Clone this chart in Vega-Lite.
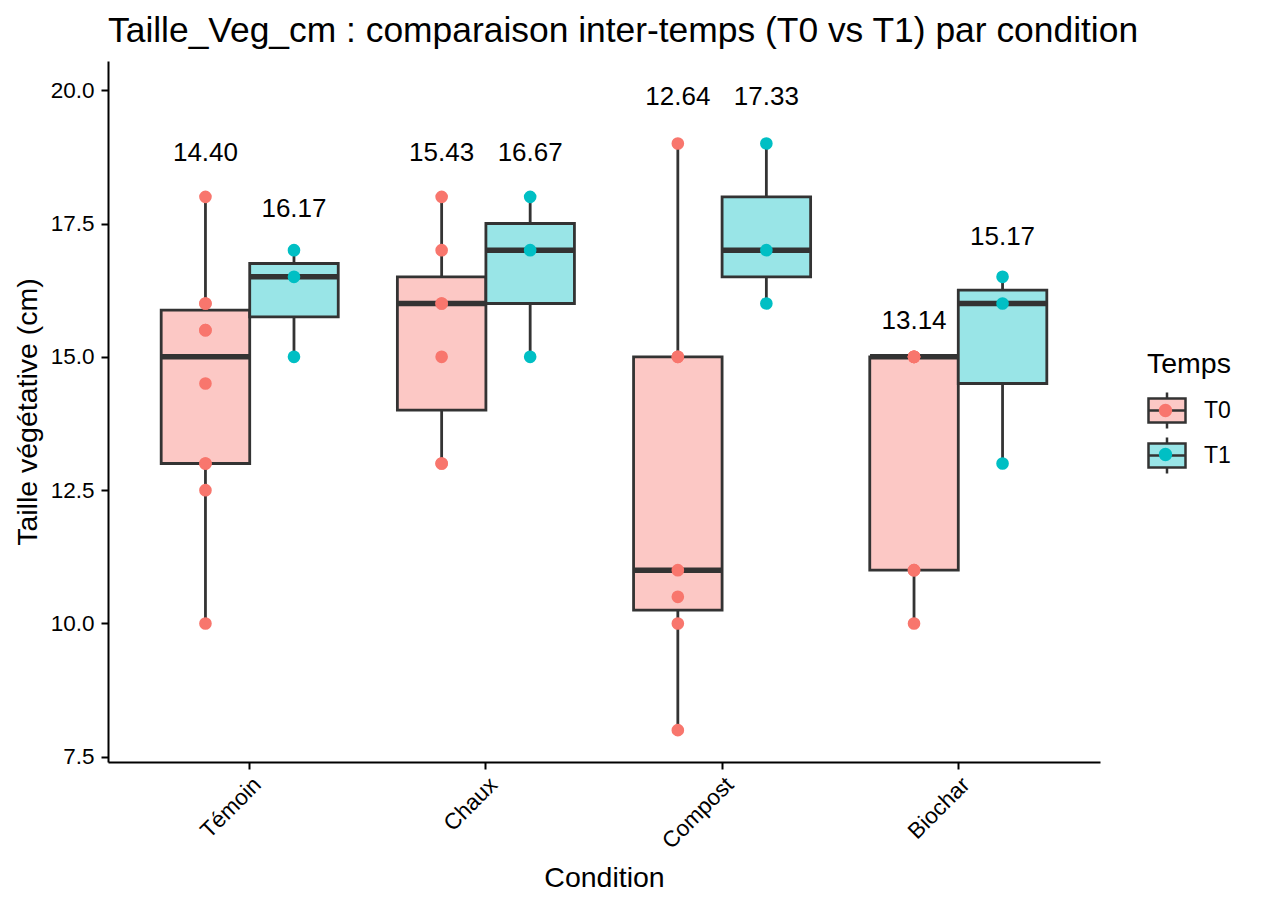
{
  "$schema": "https://vega.github.io/schema/vega-lite/v6.json",
  "autosize": {"type": "none"},
  "padding": {"left": 108, "top": 61, "right": 164, "bottom": 144},
  "width": 992,
  "height": 701,
  "background": "white",
  "title": {
    "text": "Taille_Veg_cm : comparaison inter-temps (T0 vs T1) par condition",
    "anchor": "start", "frame": "group", "font": "Liberation Sans", "fontSize": 35.4,
    "fontWeight": "normal", "color": "black", "offset": 12
  },
  "config": {
    "view": {"stroke": null},
    "font": "Liberation Sans",
    "axis": {
      "domainColor": "black", "domainWidth": 2, "tickColor": "black", "tickWidth": 2, "tickSize": 7,
      "labelColor": "black", "labelFont": "Liberation Sans", "labelFontSize": 22.5, "labelPadding": 4,
      "titleFont": "Liberation Sans", "titleFontSize": 28.5, "titleFontWeight": "normal", "titleColor": "black",
      "grid": false
    },
    "legend": {
      "titleFont": "Liberation Sans", "titleFontSize": 28.5, "titleFontWeight": "normal", "titleColor": "black",
      "labelFont": "Liberation Sans", "labelFontSize": 23, "labelColor": "black"
    }
  },
  "data": {
    "values": [
      {"Condition": "Témoin", "Temps": "T0", "Taille_Veg_cm": 18},
      {"Condition": "Témoin", "Temps": "T0", "Taille_Veg_cm": 16},
      {"Condition": "Témoin", "Temps": "T0", "Taille_Veg_cm": 16},
      {"Condition": "Témoin", "Temps": "T0", "Taille_Veg_cm": 15.5},
      {"Condition": "Témoin", "Temps": "T0", "Taille_Veg_cm": 15.5},
      {"Condition": "Témoin", "Temps": "T0", "Taille_Veg_cm": 14.5},
      {"Condition": "Témoin", "Temps": "T0", "Taille_Veg_cm": 13},
      {"Condition": "Témoin", "Temps": "T0", "Taille_Veg_cm": 13},
      {"Condition": "Témoin", "Temps": "T0", "Taille_Veg_cm": 12.5},
      {"Condition": "Témoin", "Temps": "T0", "Taille_Veg_cm": 10},
      {"Condition": "Témoin", "Temps": "T1", "Taille_Veg_cm": 17},
      {"Condition": "Témoin", "Temps": "T1", "Taille_Veg_cm": 16.5},
      {"Condition": "Témoin", "Temps": "T1", "Taille_Veg_cm": 15},
      {"Condition": "Chaux", "Temps": "T0", "Taille_Veg_cm": 18},
      {"Condition": "Chaux", "Temps": "T0", "Taille_Veg_cm": 17},
      {"Condition": "Chaux", "Temps": "T0", "Taille_Veg_cm": 16},
      {"Condition": "Chaux", "Temps": "T0", "Taille_Veg_cm": 16},
      {"Condition": "Chaux", "Temps": "T0", "Taille_Veg_cm": 15},
      {"Condition": "Chaux", "Temps": "T0", "Taille_Veg_cm": 13},
      {"Condition": "Chaux", "Temps": "T0", "Taille_Veg_cm": 13},
      {"Condition": "Chaux", "Temps": "T1", "Taille_Veg_cm": 18},
      {"Condition": "Chaux", "Temps": "T1", "Taille_Veg_cm": 17},
      {"Condition": "Chaux", "Temps": "T1", "Taille_Veg_cm": 15},
      {"Condition": "Compost", "Temps": "T0", "Taille_Veg_cm": 19},
      {"Condition": "Compost", "Temps": "T0", "Taille_Veg_cm": 15},
      {"Condition": "Compost", "Temps": "T0", "Taille_Veg_cm": 15},
      {"Condition": "Compost", "Temps": "T0", "Taille_Veg_cm": 11},
      {"Condition": "Compost", "Temps": "T0", "Taille_Veg_cm": 10.5},
      {"Condition": "Compost", "Temps": "T0", "Taille_Veg_cm": 10},
      {"Condition": "Compost", "Temps": "T0", "Taille_Veg_cm": 8},
      {"Condition": "Compost", "Temps": "T1", "Taille_Veg_cm": 19},
      {"Condition": "Compost", "Temps": "T1", "Taille_Veg_cm": 17},
      {"Condition": "Compost", "Temps": "T1", "Taille_Veg_cm": 16},
      {"Condition": "Biochar", "Temps": "T0", "Taille_Veg_cm": 15},
      {"Condition": "Biochar", "Temps": "T0", "Taille_Veg_cm": 15},
      {"Condition": "Biochar", "Temps": "T0", "Taille_Veg_cm": 15},
      {"Condition": "Biochar", "Temps": "T0", "Taille_Veg_cm": 15},
      {"Condition": "Biochar", "Temps": "T0", "Taille_Veg_cm": 11},
      {"Condition": "Biochar", "Temps": "T0", "Taille_Veg_cm": 11},
      {"Condition": "Biochar", "Temps": "T0", "Taille_Veg_cm": 10},
      {"Condition": "Biochar", "Temps": "T1", "Taille_Veg_cm": 16.5},
      {"Condition": "Biochar", "Temps": "T1", "Taille_Veg_cm": 16},
      {"Condition": "Biochar", "Temps": "T1", "Taille_Veg_cm": 13}
    ]
  },
  "encoding": {
    "x": {
      "field": "Condition", "type": "nominal", "sort": ["Témoin", "Chaux", "Compost", "Biochar"],
      "scale": {"paddingInner": 0, "paddingOuter": 0.1},
      "axis": {"title": "Condition", "labelAngle": -45, "labelAlign": "right", "labelBaseline": "top", "titlePadding": 11}
    },
    "xOffset": {
      "field": "Temps", "type": "nominal",
      "scale": {"paddingInner": 0, "paddingOuter": 0.334}
    }
  },
  "layer": [
    {
      "layer": [
        {
          "mark": {"type": "rule", "stroke": "#333333", "strokeWidth": 2.8},
          "encoding": {
            "y": {"aggregate": "min", "field": "Taille_Veg_cm", "type": "quantitative",
              "scale": {"domain": [7.4025, 20.5475], "nice": false, "zero": false},
              "axis": {"title": "Taille végétative (cm)", "values": [7.5, 10, 12.5, 15, 17.5, 20], "format": ".1f", "labelPadding": 7, "titlePadding": 8}},
            "y2": {"aggregate": "q1", "field": "Taille_Veg_cm"}
          }
        },
        {
          "mark": {"type": "rule", "stroke": "#333333", "strokeWidth": 2.8},
          "encoding": {
            "y": {"aggregate": "q3", "field": "Taille_Veg_cm", "type": "quantitative"},
            "y2": {"aggregate": "max", "field": "Taille_Veg_cm"}
          }
        },
        {
          "mark": {"type": "bar", "width": {"band": 1}, "stroke": "#333333", "strokeWidth": 2.8},
          "encoding": {
            "y": {"aggregate": "q1", "field": "Taille_Veg_cm", "type": "quantitative"},
            "y2": {"aggregate": "q3", "field": "Taille_Veg_cm"},
            "fill": {
              "field": "Temps", "type": "nominal",
              "scale": {"range": ["#FCC8C5", "#99E5E7"]},
              "legend": {
                "title": "Temps", "orient": "none", "legendX": 1039, "legendY": 289, "padding": 0,
                "symbolType": "M-1,-0.65H1V0.65H-1Z M-1,0H1 M0,-0.65V-0.97 M0,0.65V0.97",
                "symbolSize": 1369, "symbolStrokeColor": "#333333", "symbolStrokeWidth": 2.5,
                "labelOffset": 17, "rowPadding": -1, "titlePadding": 12
              }
            }
          }
        },
        {
          "mark": {"type": "tick", "color": "#333333", "thickness": 5.5, "size": 88},
          "encoding": {
            "y": {"aggregate": "median", "field": "Taille_Veg_cm", "type": "quantitative"}
          }
        },
        {
          "mark": {"type": "circle", "size": 160, "opacity": 1},
          "encoding": {
            "y": {"field": "Taille_Veg_cm", "type": "quantitative"},
            "color": {
              "field": "Temps", "type": "nominal",
              "scale": {"domain": ["T0", "T1"], "range": ["#F8766D", "#00BFC4"]},
              "legend": {
                "title": null, "orient": "none", "legendX": 1039, "legendY": 331, "padding": 0, "zindex": 2,
                "symbolType": "M-0.36,0A0.36,0.36 0 1,1 0.36,0A0.36,0.36 0 1,1 -0.36,0Z M-1,-0.97L-1,-0.97 M1,0.97L1,0.97",
                "symbolSize": 1369, "symbolStrokeWidth": 0, "symbolOpacity": 1,
                "labelExpr": "''", "labelOffset": 0, "rowPadding": 7
              }
            }
          }
        }
      ]
    },
    {
      "mark": {"type": "text", "font": "Liberation Sans", "fontSize": 26, "color": "black", "baseline": "middle", "dy": 4},
      "encoding": {
        "y": {"aggregate": "max", "field": "Taille_Veg_cm", "type": "quantitative",
          "scale": {"domain": [7.05, 19.569], "nice": false, "zero": false}, "axis": null},
        "text": {"aggregate": "mean", "field": "Taille_Veg_cm", "type": "quantitative", "format": ".2f"}
      }
    }
  ],
  "resolve": {"scale": {"y": "independent"}}
}
